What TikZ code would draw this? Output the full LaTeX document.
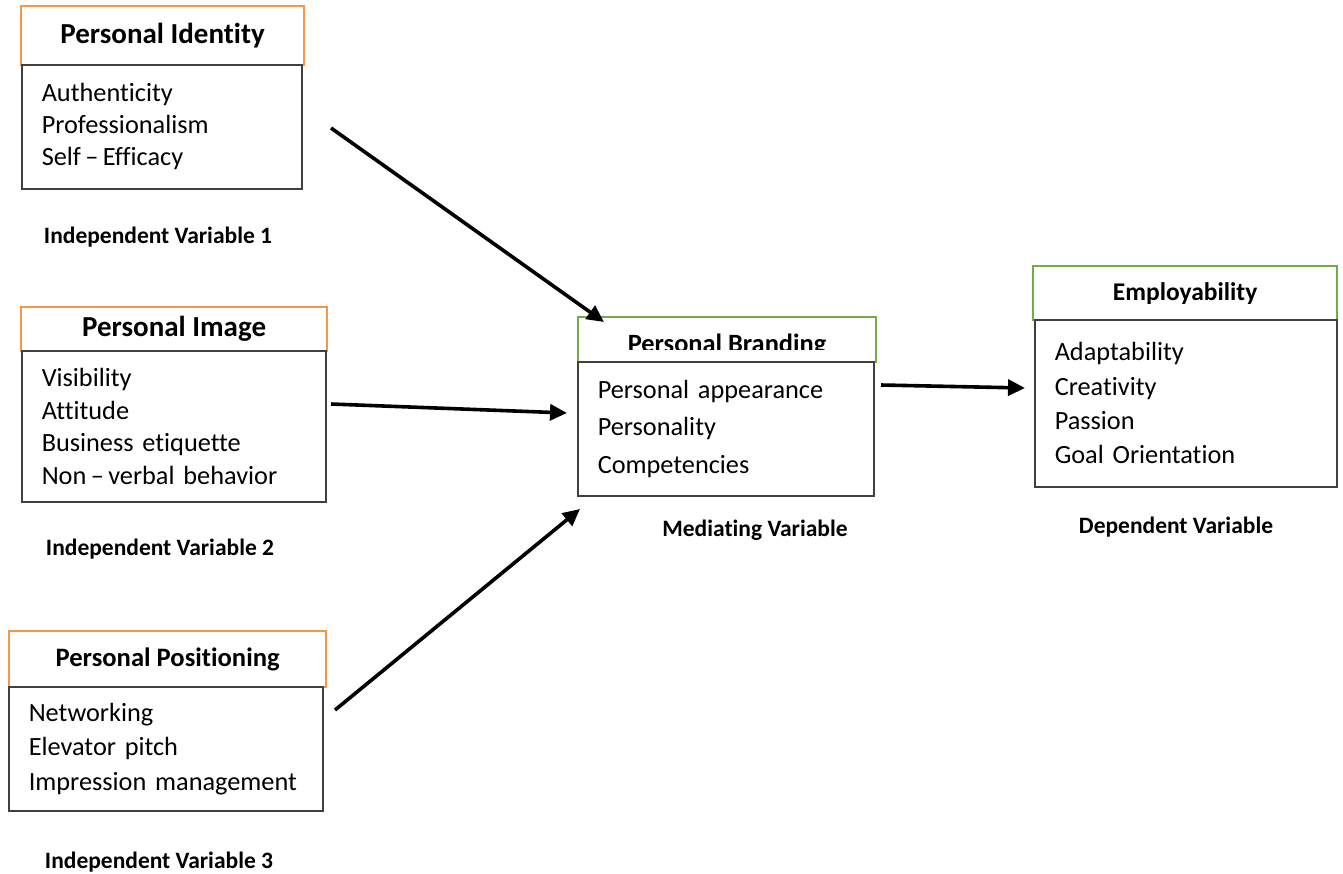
\documentclass[tikz,border=0pt]{standalone}
\usepackage{fontspec}
\setmainfont{Carlito}[Ligatures=NoCommon]
\usetikzlibrary{arrows.meta,positioning}
\definecolor{hdorange}{HTML}{F79646}
\definecolor{hdgreen}{HTML}{70AD47}

\begin{document}
\begin{tikzpicture}[
  x=1pt, y=-1pt, >={Triangle[length=17pt,width=16pt]},
  hd/.style={draw=#1, line width=2.2pt, anchor=north west, inner sep=0pt},
  body/.style={draw=black!75, line width=1.5pt, anchor=north west, align=left, inner xsep=20pt, inner ysep=0pt, font=\fontsize{26.3}{#1}\selectfont},
  lab/.style={font=\fontsize{23.5}{27}\selectfont\bfseries},
  arr/.style={->, line width=3.6pt}]
\useasboundingbox (0,0) rectangle (1343,873);
% independent variables
\node[hd=hdorange, minimum width=283pt, minimum height=59pt, font=\fontsize{29}{34}\selectfont\bfseries] (idhd) at (20,5) {Personal Identity};
\node[body=32, minimum height=124pt, text width=240pt] (idbody) at (21,64) {Authenticity\\Professionalism\\Self\,--\,Efficacy};
\node[lab] (iv1) at (158,237) {Independent Variable 1};
\node[hd=hdorange, minimum width=306pt, minimum height=44pt, font=\fontsize{29}{34}\selectfont\bfseries] (imhd) at (20,306) {Personal Image};
\node[body=32.5, minimum height=151pt, text width=264pt] (imbody) at (21,350) {Visibility\\Attitude\\Business etiquette\\Non\,--\,verbal behavior};
\node[lab] (iv2) at (160,549) {Independent Variable 2};
\node[hd=hdorange, minimum width=317pt, minimum height=56pt, font=\fontsize{26.6}{31}\selectfont\bfseries] (pohd) at (8,630) {Personal Positioning};
\node[body=34.5, minimum height=124pt, text width=274pt] (pobody) at (8,686) {Networking\\Elevator pitch\\Impression management};
\node[lab] (iv3) at (159,862) {Independent Variable 3};
% mediating variable
\node[hd=hdgreen, minimum width=298pt, minimum height=45pt] (brhd) at (577,316) {};
\begin{scope}
\clip (577,316) rectangle (875,349);
\node[anchor=base, font=\fontsize{26.4}{31}\selectfont\bfseries] (brtitle) at (727,352) {Personal Branding};
\end{scope}
\node[body=37.5, minimum height=134pt, text width=256pt] (brbody) at (577,361) {Personal appearance\\Personality\\Competencies};
\node[lab] (mv) at (755,530) {Mediating Variable};
% dependent variable
\node[hd=hdgreen, minimum width=304pt, minimum height=54pt, font=\fontsize{25.5}{30}\selectfont\bfseries] (emhd) at (1032,265) {Employability};
\node[body=34.3, minimum height=167pt, text width=262pt] (embody) at (1034,319) {Adaptability\\Creativity\\Passion\\Goal Orientation};
\node[lab] (dv) at (1176,527) {Dependent Variable};
% arrow ends
\coordinate (idout) at (331,128);
\coordinate (imout) at (331,404);
\coordinate (poout) at (335,710);
\coordinate (brin1) at (604,322);
\coordinate (brin2) at (567,413);
\coordinate (brin3) at (580,509);
\coordinate (brout) at (881,385);
\coordinate (emin) at (1025,388);
\draw[arr] (idout) -- (brin1);
\draw[arr] (imout) -- (brin2);
\draw[arr] (poout) -- (brin3);
\draw[arr] (brout) -- (emin);
\end{tikzpicture}
\end{document}
